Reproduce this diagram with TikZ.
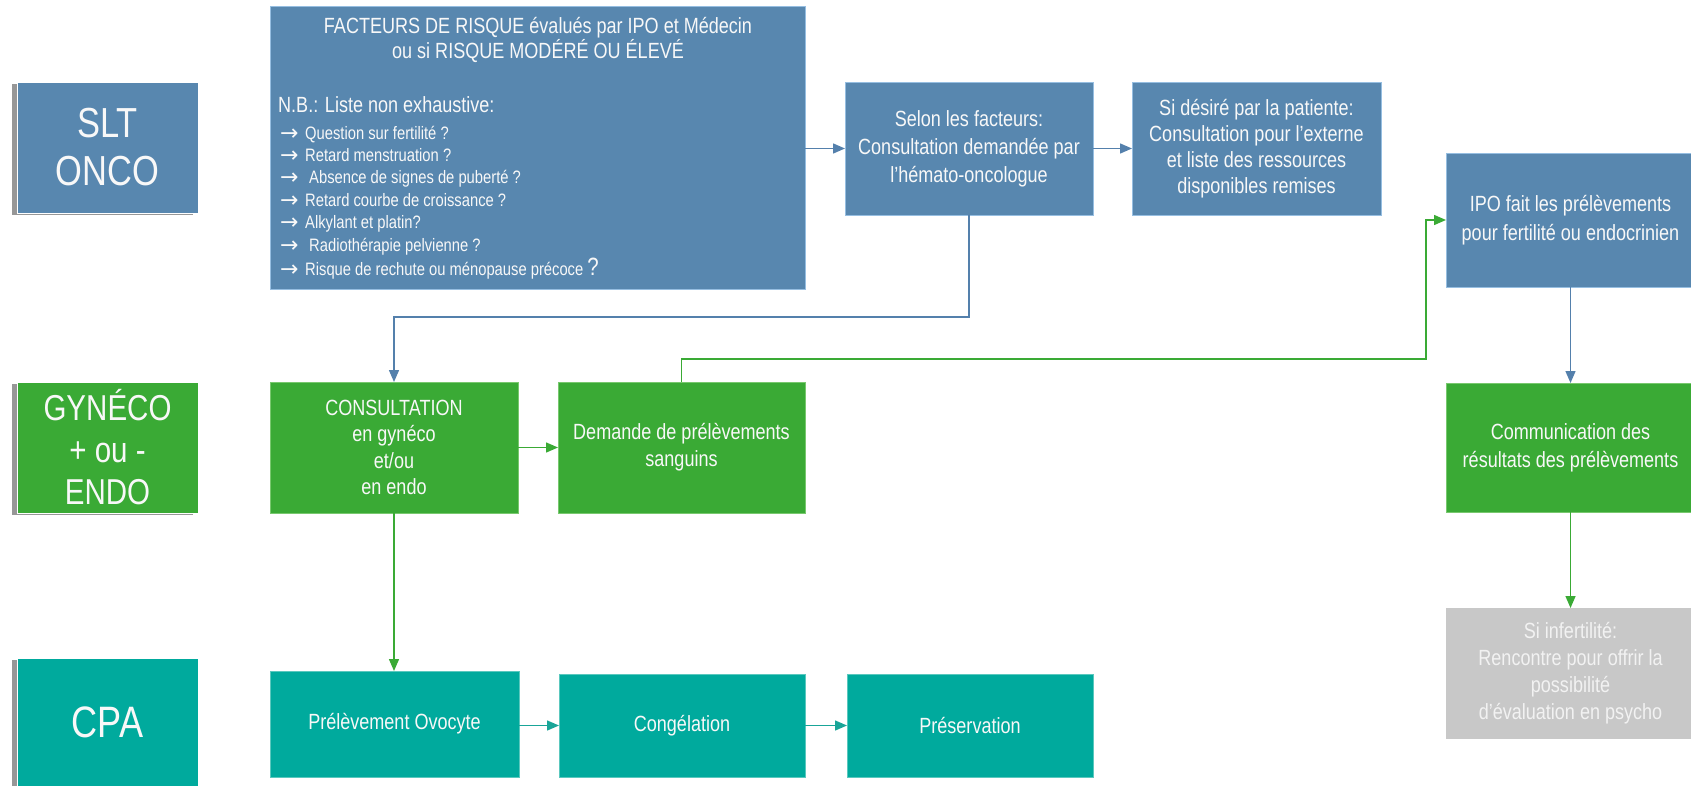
\documentclass[tikz,border=0pt]{standalone}
\usepackage{fontspec}
\setmainfont{Liberation Sans}[FakeStretch=0.82]
\newfontfamily\symf{DejaVu Sans}
\usetikzlibrary{arrows.meta,shadows}
\definecolor{blueF}{RGB}{88,135,175}
\definecolor{blueB}{RGB}{150,190,225}
\definecolor{blueL}{RGB}{84,128,172}
\definecolor{greenF}{RGB}{58,170,53}
\definecolor{greenB}{RGB}{120,200,110}
\definecolor{tealF}{RGB}{0,170,157}
\definecolor{tealB}{RGB}{90,200,190}
\definecolor{tealL}{RGB}{25,165,152}
\definecolor{grayF}{RGB}{200,200,200}
\definecolor{grayT}{RGB}{242,242,242}
\definecolor{txtW}{RGB}{248,248,248}
\newcommand{\fsz}[2]{\fontsize{#1}{#2}\selectfont}
\newcommand{\arr}{\makebox[25pt][l]{\raisebox{-1pt}{\symf\fsz{22}{22}→}}}
\begin{document}
\begin{tikzpicture}[x=1pt,y=-1pt,
  base/.style={rectangle, inner sep=0pt, outer sep=0pt, line width=0.8pt, align=center, text=txtW},
  bbox/.style={base, fill=blueF, draw=blueB},
  gbox/.style={base, fill=greenF, draw=greenB},
  tbox/.style={base, fill=tealF, draw=tealB},
  grbox/.style={base, fill=grayF, draw=grayF, text=grayT},
  lab/.style={base, draw=white, line width=0.6pt, drop shadow={shadow xshift=-5pt, shadow yshift=-2pt, fill=black!45, opacity=0.9}},
  itm/.style={anchor=west, inner sep=0pt, text=txtW, text height=13pt, text depth=4pt, font=\fsz{18}{22}},
  conn/.style={line width=1.4pt, -{Triangle[length=12pt,width=10pt]}},
  bconn/.style={conn, draw=blueL},
  gconn/.style={conn, draw=greenF},
  tconn/.style={conn, draw=tealL}
]
\useasboundingbox (0,0) rectangle (1691,786);
\fill[white] (0,0) rectangle (1691,786);

% lane labels
\node[lab, fill=blueF, minimum width=181pt, minimum height=131pt, font=\fsz{42}{48}] (slt) at (107.5,147.5) {SLT\\ONCO};
\node[lab, fill=greenF, minimum width=181pt, minimum height=131pt, font=\fsz{36}{42}] (gyn) at (107.5,447.5) {GYNÉCO\\+ ou -\\ENDO};
\node[lab, fill=tealF, minimum width=181pt, minimum height=128pt, font=\fsz{44}{48}] (cpa) at (107.5,722) {CPA};

% big risk box
\node[bbox, minimum width=535pt, minimum height=283pt] (big) at (537.5,147.5) {};
\node[text=txtW, align=center, inner sep=0pt, font=\fsz{22}{25}] (bigtitle) at (538,40) {FACTEURS DE RISQUE évalués par IPO et Médecin\\ou si RISQUE MODÉRÉ OU ÉLEVÉ};
\node[itm, font=\fsz{22}{25}] (nb) at (278,108) {N.B.: Liste non exhaustive:};
\foreach \yy/\tt [count=\i] in {
  135/{\arr Question sur fertilité ?},
  157/{\arr Retard menstruation ?},
  179.5/{\arr\hspace{4pt}Absence de signes de puberté ?},
  202/{\arr Retard courbe de croissance ?},
  224.5/{\arr Alkylant et platin?},
  247/{\arr\hspace{4pt}Radiothérapie pelvienne ?},
  271/{\arr Risque de rechute ou ménopause précoce {\fsz{25}{25}?}}}
  \node[itm] (item\i) at (280,\yy) {\tt};

% row 1
\node[bbox, minimum width=248pt, minimum height=133pt, font=\fsz{22}{28}] (selon) at (969,148.5) {Selon les facteurs:\\Consultation demandée par\\l'hémato-oncologue};
\node[bbox, minimum width=249pt, minimum height=133pt, font=\fsz{22}{26}] (sides) at (1256.5,148.5) {Si désiré par la patiente:\\Consultation pour l’externe\\et liste des ressources\\disponibles remises};
\node[bbox, minimum width=249pt, minimum height=134pt, font=\fsz{22}{29}] (ipo) at (1570.5,220) {IPO fait les prélèvements\\pour fertilité ou endocrinien};

% row 2
\node[gbox, minimum width=248pt, minimum height=131pt, font=\fsz{22}{26.5}] (consult) at (394,447.5) {CONSULTATION\\en gynéco\\et/ou\\en endo};
\node[gbox, minimum width=247pt, minimum height=131pt, font=\fsz{22}{27}] (demande) at (681.5,447.5) {Demande de prélèvements\\sanguins};
\node[gbox, minimum width=249pt, minimum height=129pt, font=\fsz{22}{28}] (comm) at (1570.5,447.5) {Communication des\\résultats des prélèvements};
\node[grbox, minimum width=249pt, minimum height=130pt, font=\fsz{22}{27}] (sinf) at (1570.5,673) {Si infertilité:\\Rencontre pour offrir la\\possibilité\\d’évaluation en psycho};

% row 3
\node[tbox, minimum width=249pt, minimum height=106pt, font=\fsz{22}{26}] (prelov) at (394.5,724) {Prélèvement Ovocyte};
\node[tbox, minimum width=246pt, minimum height=103pt, font=\fsz{22}{26}] (cong) at (682,725.5) {Congélation};
\node[tbox, minimum width=246pt, minimum height=103pt, font=\fsz{22}{26}] (pres) at (970,725.5) {Préservation};

% connectors
\coordinate (b1) at (969,317);
\coordinate (g1) at (681.5,359);
\coordinate (g2) at (1426,359);
\draw[bconn] (big.east |- selon.west) -- (selon.west);
\draw[bconn] (selon.east) -- (sides.west);
\draw[bconn] (selon.south) -- (b1) -| (consult.north);
\draw[gconn] (demande.north) -- (g1) -- (g2) |- (ipo.west);
\draw[bconn] (ipo.south) -- (ipo.south |- comm.north);
\draw[gconn] (comm.south) -- (comm.south |- sinf.north);
\draw[gconn] (consult.east) -- (demande.west);
\draw[gconn] (consult.south) -- (consult.south |- prelov.north);
\draw[tconn] (prelov.east |- cong.west) -- (cong.west);
\draw[tconn] (cong.east) -- (pres.west);
\end{tikzpicture}
\end{document}
